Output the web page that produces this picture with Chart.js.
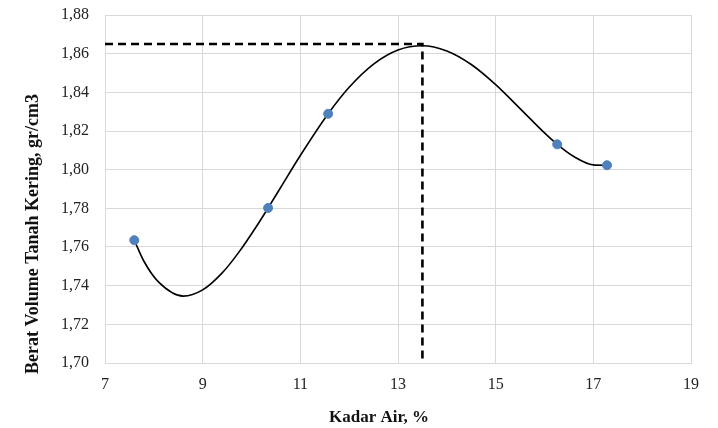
<!DOCTYPE html>
<html>
<head>
<meta charset="utf-8">
<script src="https://cdn.jsdelivr.net/npm/chart.js@4.4.1/dist/chart.umd.min.js"></script>
<style>
  html, body { margin: 0; padding: 0; background: #fff; }
  #wrap { width: 718px; height: 428px; }
</style>
</head>
<body>
<div id="wrap"><canvas id="chart"></canvas></div>
<script>
// measured samples: kadar air (%) vs berat volume kering (gr/cm3)
const kadarAir = [7.60, 10.34, 11.57, 16.26, 17.28];
const beratVolume = [1.7635, 1.7802, 1.8289, 1.8131, 1.8023];

// polynomial trend curve, sampled along its path
const trendX = [7.60, 7.8, 8.1, 8.6, 9.0, 9.4, 9.75, 10.1, 10.34, 10.6, 11.0, 11.57, 12.0, 12.5, 13.0, 13.5, 14.0, 14.5, 15.0, 15.5, 16.0, 16.26, 16.6, 17.0, 17.28];
const trendY = [1.7635, 1.7525, 1.7418, 1.7346, 1.7378, 1.7466, 1.7576, 1.7706, 1.7802, 1.7909, 1.8073, 1.8289, 1.8426, 1.8546, 1.8619, 1.8641, 1.8614, 1.8544, 1.8440, 1.8316, 1.8190, 1.8131, 1.8068, 1.8025, 1.8023];

// optimum: max dry density and its water content
const optX = [7, 13.5, 13.5];
const optY = [1.865, 1.865, 1.70];

const xTicks = [7, 9, 11, 13, 15, 17, 19];
const yMin = 1.70, yMax = 1.88, yStep = 0.02;

const toPoints = (xs, ys) => xs.map((x, i) => ({ x: x, y: ys[i] }));

const serif = "'Liberation Serif', 'Times New Roman', serif";

// axis titles drawn by hand so they sit where Excel put them
const axisTitles = {
  id: 'axisTitles',
  afterDraw(chart) {
    const ctx = chart.ctx;
    ctx.save();
    ctx.fillStyle = '#111';
    ctx.textAlign = 'center';
    ctx.textBaseline = 'middle';
    ctx.font = 'bold 17px ' + serif;
    ctx.fillText('Kadar Air, %', 379, 418);
    ctx.font = 'bold 18px ' + serif;
    ctx.translate(33, 234);
    ctx.rotate(-Math.PI / 2);
    ctx.fillText('Berat Volume Tanah Kering, gr/cm3', 0, 0);
    ctx.restore();
  }
};

new Chart(document.getElementById('chart'), {
  type: 'scatter',
  data: {
    datasets: [
      {
        label: 'trend',
        type: 'line',
        data: toPoints(trendX, trendY),
        borderColor: '#000',
        borderWidth: 1.6,
        pointRadius: 0,
        cubicInterpolationMode: 'monotone',
        order: 2
      },
      {
        label: 'optimum',
        type: 'line',
        data: toPoints(optX, optY),
        borderColor: '#000',
        borderWidth: 2.6,
        borderDash: [8, 5],
        pointRadius: 0,
        tension: 0,
        order: 3
      },
      {
        label: 'data',
        data: toPoints(kadarAir, beratVolume),
        backgroundColor: '#4f81bd',
        borderColor: '#4f81bd',
        pointRadius: 4.5,
        order: 1
      }
    ]
  },
  options: {
    responsive: true,
    maintainAspectRatio: false,
    animation: false,
    layout: { padding: { left: 0, right: 27, top: 15, bottom: 0 } },
    plugins: {
      legend: { display: false },
      tooltip: { enabled: false }
    },
    scales: {
      x: {
        type: 'linear',
        min: xTicks[0],
        max: xTicks[xTicks.length - 1],
        afterBuildTicks: (s) => { s.ticks = xTicks.map(v => ({ value: v })); },
        afterFit: (s) => { s.height = 65; },
        grid: { color: '#d9d9d9', lineWidth: 1, drawTicks: false },
        border: { color: '#d9d9d9' },
        ticks: {
          padding: 12,
          color: '#222',
          font: { family: serif, size: 16 }
        }
      },
      y: {
        min: yMin,
        max: yMax,
        // keep the tick padding from pushing the plot down
        afterFit: (s) => { s.width = 105; s.paddingTop = 0; s.paddingBottom = 0; },
        grid: { color: '#d9d9d9', lineWidth: 1, drawTicks: false },
        border: { color: '#d9d9d9' },
        ticks: {
          stepSize: yStep,
          padding: 16,
          color: '#222',
          font: { family: serif, size: 16 },
          callback: (v) => v.toFixed(2).replace('.', ',')
        }
      }
    }
  },
  plugins: [axisTitles]
});
</script>
</body>
</html>
